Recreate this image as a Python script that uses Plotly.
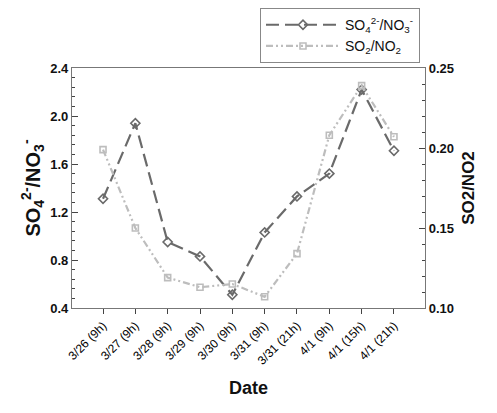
import plotly.graph_objects as go

dates = ["3/26 (9h)", "3/27 (9h)", "3/28 (9h)", "3/29 (9h)", "3/30 (9h)",
         "3/31 (9h)", "3/31 (21h)", "4/1 (9h)", "4/1 (15h)", "4/1 (21h)"]
so4_no3 = [1.31, 1.94, 0.95, 0.83, 0.51, 1.03, 1.33, 1.52, 2.22, 1.71]
so2_no2 = [0.199, 0.150, 0.119, 0.113, 0.115, 0.107, 0.134, 0.208, 0.239, 0.207]

FONT = "Liberation Sans, Arial, sans-serif"
idx = list(range(len(dates)))

fig = go.Figure()
fig.add_trace(go.Scatter(
    x=idx, y=so4_no3, name="SO<sub>4</sub><sup>2-</sup>/NO<sub>3</sub><sup>-</sup>",
    mode="lines+markers",
    line=dict(color="#6a6a6a", width=2.2, dash="13px,6px"),
    marker=dict(symbol="diamond-open", size=7, color="#6a6a6a", line=dict(width=1.6)),
))
fig.add_trace(go.Scatter(
    x=idx, y=so2_no2, name="SO<sub>2</sub>/NO<sub>2</sub>", yaxis="y2",
    mode="lines+markers",
    line=dict(color="#bdbdbd", width=2.2, dash="7px,3px,2px,3px,2px,3px"),
    marker=dict(symbol="square-open", size=6, color="#bdbdbd", line=dict(width=1.6)),
))

fig.update_layout(
    width=489, height=405,
    margin=dict(l=64, r=72, t=60, b=105, autoexpand=False),
    paper_bgcolor="white", plot_bgcolor="white",
    font=dict(family=FONT, color="#111"),
    showlegend=True,
    legend=dict(x=0.532, y=1.021, xanchor="left", yanchor="bottom",
                bordercolor="#888", borderwidth=1.2, bgcolor="white",
                font=dict(size=14), itemwidth=74, tracegroupgap=0,
                traceorder="normal"),
    xaxis=dict(
        range=[-0.96, 9.96], tickmode="array", tickvals=idx, ticktext=dates,
        tickangle=-45, tickfont=dict(size=12, color="#000"), ticks="outside", ticklen=5,
        tickcolor="#444", showline=True, linecolor="#777", linewidth=1.2,
        mirror=True, showgrid=False, zeroline=False, automargin=False,
        title=dict(text="Date", font=dict(size=18, weight="bold"), standoff=14),
    ),
    yaxis=dict(
        range=[0.4, 2.4], tickmode="linear", tick0=0.4, dtick=0.4,
        tickformat=".1f", ticks="inside", ticklen=6, tickcolor="#444",
        tickfont=dict(size=13, weight="bold"),
        minor=dict(dtick=0.08, ticks="inside", ticklen=3, tickcolor="#444"),
        showline=True, linecolor="#777", linewidth=1.2, automargin=False,
        showgrid=False, zeroline=False,
        title=dict(text="SO<sub>4</sub><sup>2-</sup>/NO<sub>3</sub><sup>-</sup>",
                   font=dict(size=20, weight="bold"), standoff=4),
    ),
    yaxis2=dict(
        range=[0.10, 0.25], overlaying="y", side="right",
        tickmode="linear", tick0=0.10, dtick=0.05, tickformat=".2f",
        ticks="inside", ticklen=6, tickcolor="#444",
        tickfont=dict(size=13, weight="bold"),
        minor=dict(dtick=0.01, ticks="inside", ticklen=3, tickcolor="#444"),
        showline=True, linecolor="#777", linewidth=1.2, automargin=False,
        showgrid=False, zeroline=False,
        title=dict(text="SO2/NO2", font=dict(size=17, weight="bold"), standoff=9),
    ),
)

fig.write_html("out.html")
